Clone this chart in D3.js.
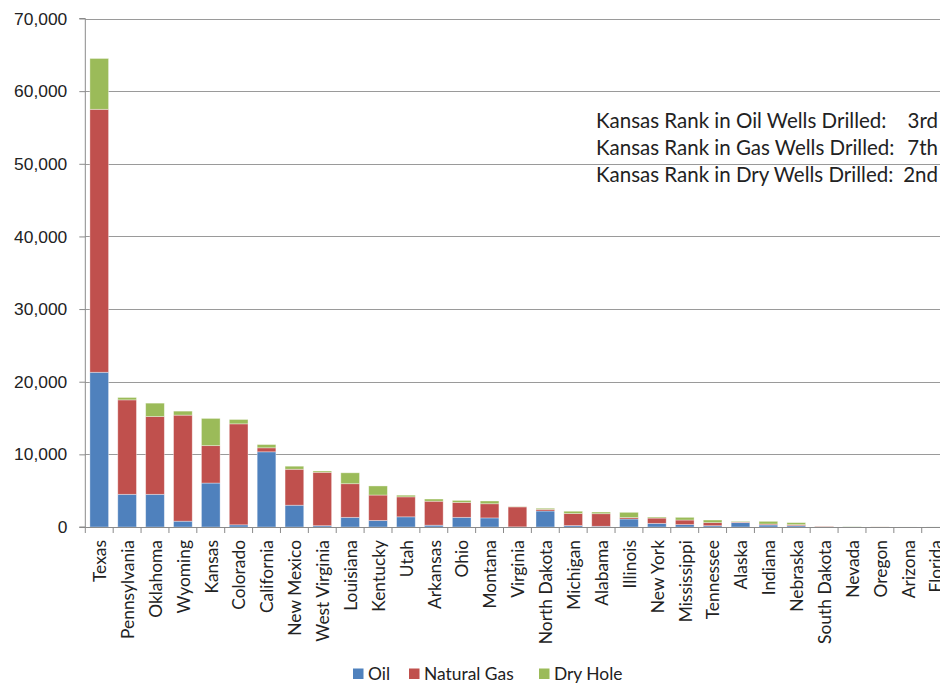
<!DOCTYPE html>
<html>
<head>
<meta charset="utf-8">
<script src="https://cdn.jsdelivr.net/npm/d3@7"></script>
<style>
  html, body { margin: 0; padding: 0; background: #fff; overflow: hidden; }
  svg { display: block; font-family: Lato, "Open Sans", sans-serif; }
</style>
</head>
<body>
<svg id="chart" width="940" height="684"></svg>
<script>
// Wells drilled by state, stacked by well type
const states = ["Texas", "Pennsylvania", "Oklahoma", "Wyoming", "Kansas", "Colorado", "California",
  "New Mexico", "West Virginia", "Louisiana", "Kentucky", "Utah", "Arkansas", "Ohio", "Montana",
  "Virginia", "North Dakota", "Michigan", "Alabama", "Illinois", "New York", "Mississippi",
  "Tennessee", "Alaska", "Indiana", "Nebraska", "South Dakota", "Nevada", "Oregon", "Arizona", "Florida"];

const oil = [21300, 4500, 4500, 800, 6050, 300, 10350,
  3000, 180, 1330, 900, 1400, 250, 1330, 1250,
  20, 2200, 200, 100, 1100, 500, 330,
  180, 600, 280, 180, 30, 10, 0, 0, 5];

const naturalGas = [36200, 13000, 10700, 14600, 5150, 13900, 550,
  4950, 7350, 4630, 3500, 2750, 3300, 2050, 1950,
  2750, 230, 1650, 1730, 200, 730, 630,
  420, 90, 130, 140, 80, 0, 10, 0, 0];

const dryHole = [7000, 330, 1850, 550, 3750, 600, 450,
  420, 180, 1500, 1250, 230, 300, 280, 380,
  30, 150, 320, 230, 720, 140, 370,
  360, 90, 370, 280, 10, 30, 10, 5, 5];

const yTicks = [0, 10000, 20000, 30000, 40000, 50000, 60000, 70000];

const seriesNames = ["Oil", "Natural Gas", "Dry Hole"];
const seriesColors = ["#4F81BD", "#C0504D", "#9BBB59"];

const notes = [
  ["Kansas Rank in Oil Wells Drilled:", "3rd"],
  ["Kansas Rank in Gas Wells Drilled:", "7th"],
  ["Kansas Rank in Dry Wells Drilled:", "2nd"]
];

// Build a table for d3.stack
const rows = states.map((s, i) => ({ state: s, "Oil": oil[i], "Natural Gas": naturalGas[i], "Dry Hole": dryHole[i] }));
const stacked = d3.stack().keys(seriesNames)(rows);

const svg = d3.select("#chart");
const plotLeft = 85.3, plotRight = 949.6, plotBottom = 527, plotTop = 18.5;
const axisFont = "17.4px";

const x = d3.scaleBand().domain(states).range([plotLeft, plotRight]).paddingInner(0.33).paddingOuter(0.165);
const y = d3.scaleLinear().domain([0, 70000]).range([plotBottom, plotTop]);

// Horizontal gridlines
svg.append("g").selectAll("line").data(yTicks.filter(d => d > 0)).join("line")
  .attr("x1", plotLeft).attr("x2", plotRight)
  .attr("y1", d => Math.round(y(d)) + 0.5).attr("y2", d => Math.round(y(d)) + 0.5)
  .attr("stroke", "#9a9a9a").attr("stroke-width", 1);

// Stacked bars
const g = svg.append("g");
stacked.forEach((layer, li) => {
  g.append("g").attr("fill", seriesColors[li])
    .selectAll("rect").data(layer).join("rect")
    .attr("x", d => x(d.data.state))
    .attr("width", x.bandwidth())
    .attr("y", d => y(d[1]))
    .attr("height", d => Math.max(0, y(d[0]) - y(d[1])))
    .attr("stroke", "#ffffff").attr("stroke-opacity", 0.45).attr("stroke-width", 0.8);
});

// Y axis
const yAxis = d3.axisLeft(y).tickValues(yTicks).tickSize(6).tickPadding(12)
  .tickFormat(d3.format(","));
const ya = svg.append("g").attr("transform", `translate(${plotLeft},0)`).call(yAxis);
ya.select(".domain").attr("stroke", "#8a8a8a").attr("d", `M-6,${y(70000)}H0V${plotBottom}H-6`);
ya.selectAll(".tick line").attr("stroke", "#8a8a8a");
ya.selectAll(".tick text").attr("fill", "#222").style("font-size", axisFont);

// X axis with tick marks between categories
svg.append("line").attr("x1", plotLeft).attr("x2", plotRight)
  .attr("y1", plotBottom + 0.5).attr("y2", plotBottom + 0.5).attr("stroke", "#8a8a8a");
const boundaries = d3.range(states.length + 1).map(i => plotLeft + i * x.step());
svg.append("g").selectAll("line").data(boundaries).join("line")
  .attr("x1", d => d).attr("x2", d => d)
  .attr("y1", plotBottom).attr("y2", plotBottom + 6)
  .attr("stroke", "#8a8a8a");

svg.append("g").selectAll("text").data(states).join("text")
  .attr("transform", d => `translate(${x(d) + x.bandwidth() / 2 + 6.8},${plotBottom + 13}) rotate(-90)`)
  .attr("text-anchor", "end")
  .attr("fill", "#222").style("font-size", axisFont)
  .text(d => d);

// Annotation text
const ann = svg.append("g").style("font-size", "20.5px").attr("fill", "#222");
notes.forEach((n, i) => {
  ann.append("text").attr("x", 596).attr("y", 128 + i * 27).text(n[0]);
  ann.append("text").attr("x", 938).attr("y", 128 + i * 27).attr("text-anchor", "end").text(n[1]);
});

// Legend
const legendX = [353, 409, 539];
const lg = svg.append("g");
seriesNames.forEach((s, i) => {
  lg.append("rect").attr("x", legendX[i]).attr("y", 668.5).attr("width", 10.5).attr("height", 10.5)
    .attr("fill", seriesColors[i]);
  lg.append("text").attr("x", legendX[i] + 15).attr("y", 680)
    .attr("fill", "#222").style("font-size", axisFont).text(s);
});
</script>
</body>
</html>
